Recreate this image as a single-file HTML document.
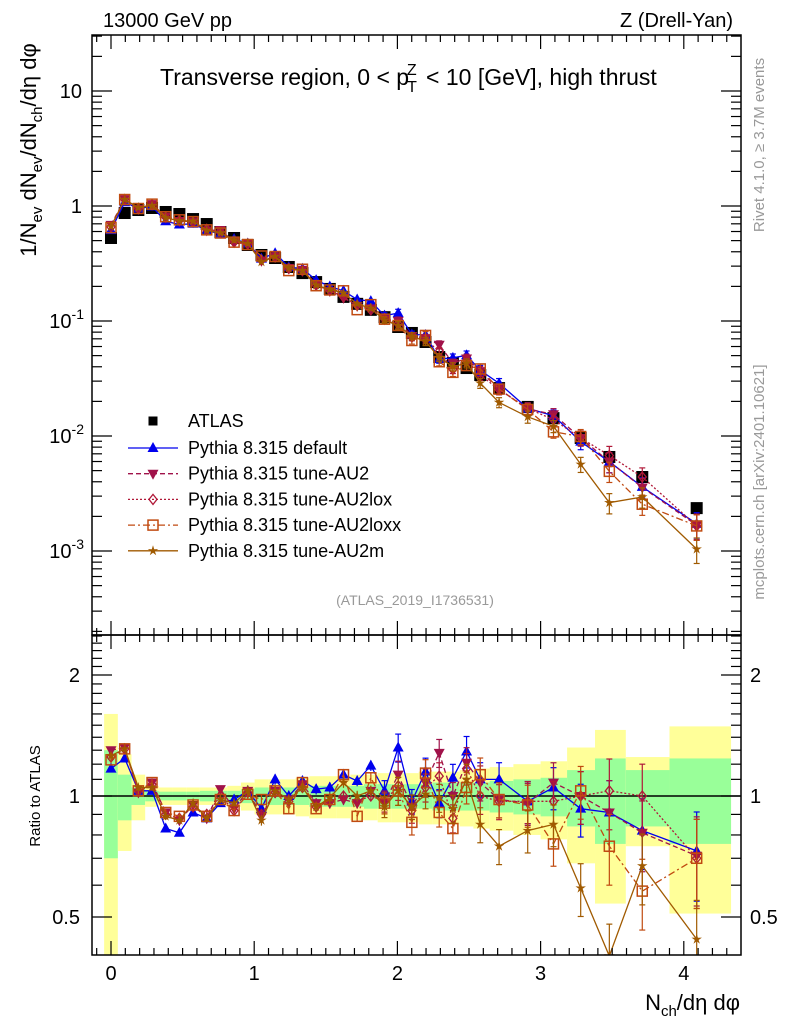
<!DOCTYPE html>
<html><head><meta charset="utf-8"><style>
body{margin:0;background:#fff}
svg{display:block;font-family:"Liberation Sans",sans-serif}
</style></head><body>
<svg id="c" width="786" height="1024" viewBox="0 0 786 1024"></svg>
<script>
const xCenters=[0,0.0955,0.191,0.2865,0.382,0.4775,0.573,0.6685,0.764,0.8595,0.955,1.0505,1.146,1.2415,1.337,1.4325,1.528,1.6235,1.719,1.8145,1.91,2.0055,2.101,2.1965,2.292,2.3875,2.483,2.5785,2.71,2.91,3.09,3.28,3.48,3.71,4.09];
const atlas=[0.527,0.869,0.923,0.961,0.887,0.852,0.770,0.697,0.594,0.527,0.458,0.375,0.353,0.295,0.261,0.218,0.190,0.162,0.141,0.125,0.108,0.0887,0.0787,0.0657,0.0486,0.0431,0.0390,0.0339,0.0261,0.0179,0.0143,0.00961,0.00657,0.00440,0.00236];
const rDefault=[1.17,1.24,1.03,1.03,0.83,0.81,0.91,0.88,0.96,0.98,1.03,0.93,1.10,1.0,1.09,1.04,1.05,1.13,1.09,1.19,1.03,1.32,0.97,1.15,0.96,1.11,1.29,1.10,1.10,0.97,1.05,0.93,0.91,0.82,0.73];
const rAU2=[1.30,1.32,1.02,1.08,0.91,0.87,0.95,0.88,1.04,0.93,1.03,0.89,1.03,0.98,1.07,0.96,0.96,0.98,0.96,1.03,0.96,1.13,0.94,1.08,1.28,1.0,1.21,1.08,0.98,0.96,1.08,1.0,0.91,0.81,0.71];
const rLox=[1.25,1.31,1.03,1.07,0.90,0.88,0.94,0.90,1.0,0.92,1.02,0.90,1.02,0.97,1.05,0.94,0.97,1.0,0.97,1.0,0.97,1.06,0.92,1.05,1.12,0.88,1.17,1.0,0.97,0.97,0.97,1.0,1.03,1.0,0.70];
const rLoxx=[1.23,1.31,1.03,1.08,0.91,0.89,0.95,0.89,0.98,0.92,1.01,0.98,1.03,0.93,1.08,0.93,0.98,1.13,0.89,1.11,0.96,1.03,0.86,1.14,0.91,0.83,1.05,1.13,0.98,0.95,0.76,1.03,0.75,0.58,0.70];
const rAU2m=[1.26,1.31,1.05,1.05,0.89,0.87,0.96,0.88,0.98,0.96,1.03,0.87,1.03,0.98,1.05,0.94,0.99,1.08,1.0,1.03,0.94,1.03,0.94,1.01,0.99,0.93,1.10,0.85,0.75,0.82,0.85,0.59,0.40,0.67,0.44];
const yellowE=[0.6,0.27,0.13,0.06,0.05,0.05,0.05,0.05,0.05,0.06,0.08,0.1,0.1,0.1,0.11,0.12,0.12,0.12,0.13,0.13,0.14,0.14,0.14,0.15,0.15,0.15,0.16,0.17,0.18,0.2,0.22,0.32,0.46,0.25,0.49];
const greenE=[0.3,0.13,0.05,0.03,0.025,0.025,0.025,0.03,0.03,0.03,0.04,0.05,0.05,0.05,0.05,0.06,0.06,0.06,0.06,0.07,0.07,0.07,0.07,0.07,0.08,0.08,0.08,0.08,0.09,0.1,0.11,0.16,0.24,0.16,0.24];
const mcErr=[0.02,0.02,0.02,0.02,0.02,0.02,0.02,0.02,0.02,0.02,0.03,0.03,0.03,0.03,0.03,0.03,0.03,0.03,0.03,0.03,0.06,0.08,0.07,0.08,0.08,0.08,0.09,0.1,0.1,0.12,0.12,0.15,0.2,0.2,0.25];
const xTicks=[0,1,2,3,4];
const mainTickLabels=[["10",1],["1",0],["10","-1"],["10","-2"],["10","-3"]];
const ratioTicks=[2,1,0.5];

const S=document.getElementById('c');const NS='http://www.w3.org/2000/svg';
function el(t,a,p){const e=document.createElementNS(NS,t);for(const k in a)e.setAttribute(k,a[k]);(p||S).appendChild(e);return e;}
const L=92,R=741,T=35,MB=635,RB=955;
const X=v=>111+v*143.2;
const Y=v=>206-115*Math.log10(v);
const YR=v=>796-402*Math.log10(v);
const n=xCenters.length;
const edges=[];edges.push(xCenters[0]-0.048);
for(let i=0;i<n-1;i++)edges.push((xCenters[i]+xCenters[i+1])/2);
edges.push(4.33);

const defs=el('defs',{});
const c1=el('clipPath',{id:'cm'},defs);el('rect',{x:L,y:T,width:R-L,height:MB-T},c1);
const c2=el('clipPath',{id:'cr'},defs);el('rect',{x:L,y:MB,width:R-L,height:RB-MB},c2);

const gb=el('g',{'clip-path':'url(#cr)'});


for(let i=0;i<n;i++){
  const x0=X(edges[i]),x1=X(edges[i+1]);
  const ry=el('rect',{x:x0,y:YR(1+yellowE[i]),width:x1-x0,height:YR(Math.max(1-yellowE[i],0.3))-YR(1+yellowE[i]),fill:'#ffff99'},gb);
  
  const rg=el('rect',{x:x0,y:YR(1+greenE[i]),width:x1-x0,height:YR(1-greenE[i])-YR(1+greenE[i]),fill:'#99ff99'},gb);
  
}
el('line',{x1:L,x2:R,y1:YR(1),y2:YR(1),stroke:'#000','stroke-width':1.5});

function marker(g,type,x,y,col,sc){
  sc=sc||1;let m;
  if(type==='sq')m=el('rect',{x:x-6*sc,y:y-6*sc,width:12*sc,height:12*sc,fill:'#000'},g);
  else if(type==='tri')m=el('polygon',{points:`${x},${y-6} ${x-5.5},${y+4} ${x+5.5},${y+4}`,fill:col},g);
  else if(type==='dtri')m=el('polygon',{points:`${x},${y+6} ${x-5.5},${y-4} ${x+5.5},${y-4}`,fill:col},g);
  else if(type==='dia')m=el('polygon',{points:`${x},${y-5} ${x-4},${y} ${x},${y+5} ${x+4},${y}`,fill:'none',stroke:col,'stroke-width':1.3},g);
  else if(type==='osq')m=el('rect',{x:x-5,y:y-5,width:10,height:10,fill:'none',stroke:col,'stroke-width':1.5},g);
  else if(type==='star'){let p=[];for(let k=0;k<10;k++){const r=k%2?2:5.5,a=-Math.PI/2+k*Math.PI/5;p.push((x+r*Math.cos(a)).toFixed(1)+','+(y+r*Math.sin(a)).toFixed(1));}m=el('polygon',{points:p.join(' '),fill:col},g);}
  return m;
}
const series=[
 {name:'default',r:rDefault,col:'#0000ee',dash:'',mk:'tri',label:'Pythia 8.315 default'},
 {name:'au2',r:rAU2,col:'#a0124a',dash:'5,3',mk:'dtri',label:'Pythia 8.315 tune-AU2'},
 {name:'au2lox',r:rLox,col:'#b01838',dash:'2,2',mk:'dia',label:'Pythia 8.315 tune-AU2lox'},
 {name:'au2loxx',r:rLoxx,col:'#c04a10',dash:'7,3,2,3',mk:'osq',label:'Pythia 8.315 tune-AU2loxx'},
 {name:'au2m',r:rAU2m,col:'#a05a00',dash:'',mk:'star',label:'Pythia 8.315 tune-AU2m'}
];
function drawSeries(s,ymap,vals,clip,panel){
  const g=el('g',{'clip-path':clip});
  
  
  let d='';
  for(let i=0;i<n;i++){d+=(i?'L':'M')+X(xCenters[i]).toFixed(1)+','+ymap(vals[i]).toFixed(1);}
  el('path',{d:d,fill:'none',stroke:s.col,'stroke-width':1.3,'stroke-dasharray':s.dash},g);
  for(let i=0;i<n;i++){
    const x=X(xCenters[i]),v=vals[i],e=mcErr[i];
    const y1=ymap(v*(1+e)),y2=ymap(v*(1-e));
    el('line',{x1:x,x2:x,y1:y1,y2:y2,stroke:s.col,'stroke-width':1.2},g);
    if(e>0.05){el('line',{x1:x-3,x2:x+3,y1:y1,y2:y1,stroke:s.col,'stroke-width':1.2},g);el('line',{x1:x-3,x2:x+3,y1:y2,y2:y2,stroke:s.col,'stroke-width':1.2},g);}
    const m=marker(g,s.mk,x,ymap(v),s.col);
    
  }
}
const ga=el('g',{'clip-path':'url(#cm)'});


for(let i=0;i<n;i++){const m=marker(ga,'sq',X(xCenters[i]),Y(atlas[i]));}
series.forEach(s=>{
  drawSeries(s,Y,atlas.map((a,i)=>a*s.r[i]),'url(#cm)','main');
  drawSeries(s,YR,s.r,'url(#cr)','ratio');
});

for(const [t,b,nm] of [[T,MB,'main-frame'],[MB,RB,'ratio-frame']]){
  const f=el('rect',{x:L,y:t,width:R-L,height:b-t,fill:'none',stroke:'#000','stroke-width':1.5});
  
}
for(let v=-0.1;v<=4.4;v+=0.1){
  const vv=Math.round(v*10)/10,x=X(vv);if(x<L||x>R)continue;
  const major=Math.abs(vv-Math.round(vv))<1e-6,len=major?14:7;
  for(const [y0,dir] of [[T,1],[MB,-1],[MB,1],[RB,-1]])
    el('line',{x1:x,x2:x,y1:y0,y2:y0+dir*len,stroke:'#000','stroke-width':1.2});
}
xTicks.forEach(v=>{const t=el('text',{x:X(v),y:980,'font-size':20,'text-anchor':'middle'});t.textContent=v;});
for(let dec=-4;dec<=1;dec++)for(let k=1;k<=9;k++){
  const v=k*Math.pow(10,dec),y=Y(v);if(y<T||y>MB)continue;
  const len=k===1?20:10;
  el('line',{x1:L,x2:L+len,y1:y,y2:y,stroke:'#000','stroke-width':1.2});
  el('line',{x1:R,x2:R-len,y1:y,y2:y,stroke:'#000','stroke-width':1.2});
}
mainTickLabels.forEach(([b,e],i)=>{
  const y=Y(Math.pow(10,1-i))+7;
  const t=el('text',{x:82,y:y,'font-size':20,'text-anchor':'end'});
  
  if(i<2)t.textContent=b;
  else{const a=el('tspan',{},t);a.textContent=b;const s=el('tspan',{dy:-9,'font-size':14},t);s.textContent=e;t.setAttribute('x',84);}
});
for(let k=4;k<=25;k++){
  const v=k/10;const y=YR(v);if(y<MB||y>RB)continue;
  const major=(v===0.5||v===1||v===2),len=major?20:10;
  el('line',{x1:L,x2:L+len,y1:y,y2:y,stroke:'#000','stroke-width':1.2});
  el('line',{x1:R,x2:R-len,y1:y,y2:y,stroke:'#000','stroke-width':1.2});
}
ratioTicks.forEach(v=>{
  const t=el('text',{x:80,y:YR(v)+7,'font-size':20,'text-anchor':'end'});t.textContent=v;
  
  const t2=el('text',{x:750,y:YR(v)+7,'font-size':20});t2.textContent=v;
  
});
function txt(x,y,s,attrs,name){const t=el('text',Object.assign({x:x,y:y},attrs||{}));t.innerHTML=s;return t;}
txt(103,27,'13000 GeV pp',{'font-size':20},'beam-label');
txt(733,27,'Z (Drell-Yan)',{'font-size':20,'text-anchor':'end'},'process-label');
txt(160,85,'Transverse region, 0 &lt; p<tspan dx="-2" dy="7" font-size="16">T</tspan><tspan dy="-17" dx="-10" font-size="16">Z</tspan><tspan dy="10" dx="3"> &lt; 10 [GeV], high thrust</tspan>',{'font-size':23},'plot-title');
txt(415,605,'(ATLAS_2019_I1736531)',{'font-size':14,'fill':'#999','text-anchor':'middle'},'analysis-id');
txt(0,0,'1/N<tspan dy="6" font-size="15">ev</tspan><tspan dy="-6"> dN</tspan><tspan dy="6" font-size="15">ev</tspan><tspan dy="-6">/dN</tspan><tspan dy="6" font-size="15">ch</tspan><tspan dy="-6">/dη dφ</tspan>',{'font-size':22,'transform':'translate(36,150) rotate(-90)','text-anchor':'middle'},'y-axis-title');
txt(0,0,'Ratio to ATLAS',{'font-size':15,'transform':'translate(40,796) rotate(-90)','text-anchor':'middle'},'ratio-axis-title');
txt(740,1010,'N<tspan dy="6" font-size="15">ch</tspan><tspan dy="-6">/dη dφ</tspan>',{'font-size':22,'text-anchor':'end'},'x-axis-title');
txt(0,0,'Rivet 4.1.0, ≥ 3.7M events',{'font-size':15,'fill':'#999','transform':'translate(764,145) rotate(-90)','text-anchor':'middle'},'rivet-label');
txt(0,0,'mcplots.cern.ch [arXiv:2401.10621]',{'font-size':15,'fill':'#999','transform':'translate(764,482) rotate(-90)','text-anchor':'middle'},'mcplots-label');
const lg=el('g',{});
const le0=el('g',{},lg);
marker(le0,'sq',153,421,'#000',0.75);
const ta=el('text',{x:188,y:427,'font-size':18},le0);ta.textContent='ATLAS';
series.forEach((s,i)=>{
  const y=448+i*25.7;
  const g=el('g',{},lg);
  el('line',{x1:128,x2:178,y1:y,y2:y,stroke:s.col,'stroke-width':1.3,'stroke-dasharray':s.dash},g);
  marker(g,s.mk,153,y,s.col);
  const t=el('text',{x:188,y:y+6,'font-size':18},g);t.textContent=s.label;
});
</script>
</body></html>
